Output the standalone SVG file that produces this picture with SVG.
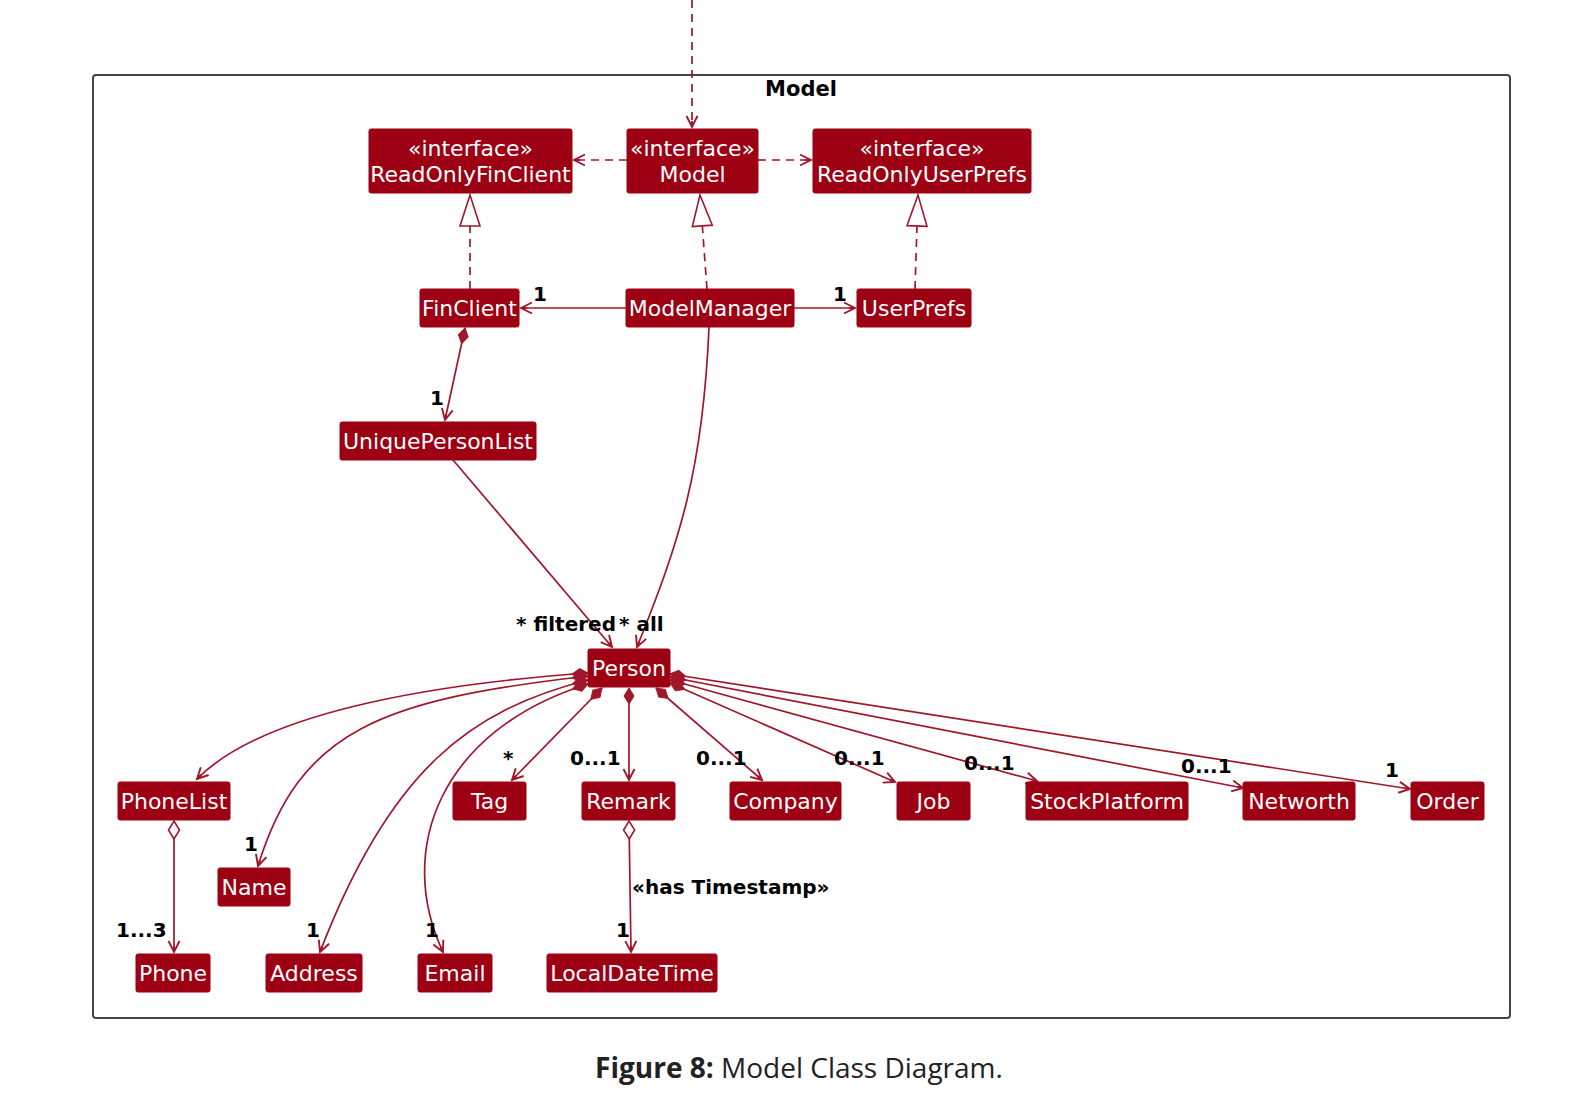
<svg xmlns="http://www.w3.org/2000/svg" width="1574" height="1105" viewBox="0 0 1574 1105">
<style>
.node rect{fill:#9C0012;stroke:#9C0012;stroke-width:1}
.node text{font-family:"DejaVu Sans",sans-serif;font-size:22px;fill:#ffffff;text-anchor:middle}
.lbl{font-family:"DejaVu Sans",sans-serif;font-size:20px;font-weight:bold;fill:#000000}
.ln{fill:none;stroke:#A0172B;stroke-width:1.7}
.dash{stroke-dasharray:8,6}
.frame{fill:none;stroke:#444444;stroke-width:2}
</style>
<defs>
<marker id="arr" markerUnits="userSpaceOnUse" markerWidth="20" markerHeight="20" orient="auto" overflow="visible" refX="0" refY="0">
<path d="M-11,-5.5 L0,0 L-11,5.5 M0,0 L-6,0" fill="none" stroke="#A0172B" stroke-width="1.9"/>
</marker>
<marker id="tri" markerUnits="userSpaceOnUse" markerWidth="40" markerHeight="40" orient="auto" overflow="visible" refX="0" refY="0">
<path d="M0,0 L-31,-10 L-31,10 Z" fill="#ffffff" stroke="#A0172B" stroke-width="1.6"/>
</marker>
<marker id="dia" markerUnits="userSpaceOnUse" markerWidth="20" markerHeight="20" orient="auto" overflow="visible" refX="0" refY="0">
<path d="M0,0 L8,-5 L16,0 L8,5 Z" fill="#A0172B" stroke="#A0172B" stroke-width="1"/>
</marker>
<marker id="odia" markerUnits="userSpaceOnUse" markerWidth="20" markerHeight="20" orient="auto" overflow="visible" refX="0" refY="0">
<path d="M0,0 L9,-5.5 L18,0 L9,5.5 Z" fill="#ffffff" stroke="#A0172B" stroke-width="1.6"/>
</marker>
</defs>
<rect width="1574" height="1105" fill="#ffffff"/>
<g id="package-model">
<rect class="frame" x="93" y="75" width="1417" height="943" rx="3"/>
<text x="801" y="96" font-family="DejaVu Sans, sans-serif" font-size="21" font-weight="bold" text-anchor="middle" fill="#000000">Model</text>
</g>
<g id="connectors">
<path class="ln dash" d="M692,0 L692,127" marker-end="url(#arr)"/>
<path class="ln dash" d="M627,160 L574,160" marker-end="url(#arr)"/>
<path class="ln dash" d="M758,160 L811,160" marker-end="url(#arr)"/>
<path class="ln dash" d="M470,289 L470,195" marker-end="url(#tri)"/>
<path class="ln dash" d="M707,289 L700,195" marker-end="url(#tri)"/>
<path class="ln dash" d="M915,289 L918,195" marker-end="url(#tri)"/>
<path class="ln" d="M626,308 L521,308" marker-end="url(#arr)"/>
<path class="ln" d="M794,308 L855,308" marker-end="url(#arr)"/>
<path class="ln" d="M465,328 L445,420" marker-start="url(#dia)" marker-end="url(#arr)"/>
<path class="ln" d="M453,460 L612,647" marker-end="url(#arr)"/>
<path class="ln" d="M709,327 C703,470 680,540 637,647" marker-end="url(#arr)"/>
<path class="ln" d="M588,673 C420,685 260,715 197,779" marker-start="url(#dia)" marker-end="url(#arr)"/>
<path class="ln" d="M588,676 C380,700 300,730 258,866" marker-start="url(#dia)" marker-end="url(#arr)"/>
<path class="ln" d="M588,680 C470,710 390,770 320,952" marker-start="url(#dia)" marker-end="url(#arr)"/>
<path class="ln" d="M588,684 C440,730 395,850 443,952" marker-start="url(#dia)" marker-end="url(#arr)"/>
<path class="ln" d="M602,688 L512,780" marker-start="url(#dia)" marker-end="url(#arr)"/>
<path class="ln" d="M629,688 L629,780" marker-start="url(#dia)" marker-end="url(#arr)"/>
<path class="ln" d="M656,688 L762,780" marker-start="url(#dia)" marker-end="url(#arr)"/>
<path class="ln" d="M670,683 L895,782" marker-start="url(#dia)" marker-end="url(#arr)"/>
<path class="ln" d="M670,680 L1037,781" marker-start="url(#dia)" marker-end="url(#arr)"/>
<path class="ln" d="M670,677 L1243,788" marker-start="url(#dia)" marker-end="url(#arr)"/>
<path class="ln" d="M670,674 L1410,789" marker-start="url(#dia)" marker-end="url(#arr)"/>
<path class="ln" d="M174,821 L174,952" marker-start="url(#odia)" marker-end="url(#arr)"/>
<path class="ln" d="M629,821 L631,952" marker-start="url(#odia)" marker-end="url(#arr)"/>
<text class="lbl" x="533" y="301">1</text>
<text class="lbl" x="833" y="301">1</text>
<text class="lbl" x="430" y="405">1</text>
<text class="lbl" x="516" y="631">* filtered</text>
<text class="lbl" x="619" y="631">* all</text>
<text class="lbl" x="503" y="765">*</text>
<text class="lbl" x="570" y="765">0...1</text>
<text class="lbl" x="696" y="765">0...1</text>
<text class="lbl" x="834" y="765">0...1</text>
<text class="lbl" x="964" y="770">0...1</text>
<text class="lbl" x="1181" y="773">0...1</text>
<text class="lbl" x="1385" y="777">1</text>
<text class="lbl" x="244" y="851">1</text>
<text class="lbl" x="116" y="937">1...3</text>
<text class="lbl" x="306" y="937">1</text>
<text class="lbl" x="425" y="937">1</text>
<text class="lbl" x="616" y="937">1</text>
<text class="lbl" x="632" y="894">«has Timestamp»</text>
</g>
<g id="ReadOnlyFinClient" class="node"><rect x="369" y="129" width="203" height="64" rx="2"/><text x="470.5" y="156">«interface»</text><text x="470.5" y="182">ReadOnlyFinClient</text></g>
<g id="Model" class="node"><rect x="627" y="129" width="131" height="64" rx="2"/><text x="692.5" y="156">«interface»</text><text x="692.5" y="182">Model</text></g>
<g id="ReadOnlyUserPrefs" class="node"><rect x="813" y="129" width="218" height="64" rx="2"/><text x="922" y="156">«interface»</text><text x="922" y="182">ReadOnlyUserPrefs</text></g>
<g id="FinClient" class="node"><rect x="420" y="289" width="99" height="38" rx="2"/><text x="469.5" y="316">FinClient</text></g>
<g id="ModelManager" class="node"><rect x="626" y="289" width="168" height="38" rx="2"/><text x="710" y="316">ModelManager</text></g>
<g id="UserPrefs" class="node"><rect x="857" y="289" width="114" height="38" rx="2"/><text x="914" y="316">UserPrefs</text></g>
<g id="UniquePersonList" class="node"><rect x="340" y="422" width="196" height="38" rx="2"/><text x="438" y="449">UniquePersonList</text></g>
<g id="Person" class="node"><rect x="588" y="649" width="82" height="38" rx="2"/><text x="629" y="676">Person</text></g>
<g id="PhoneList" class="node"><rect x="118" y="782" width="112" height="38" rx="2"/><text x="174" y="809">PhoneList</text></g>
<g id="Tag" class="node"><rect x="453" y="782" width="73" height="38" rx="2"/><text x="489.5" y="809">Tag</text></g>
<g id="Remark" class="node"><rect x="582" y="782" width="93" height="38" rx="2"/><text x="628.5" y="809">Remark</text></g>
<g id="Company" class="node"><rect x="730" y="782" width="111" height="38" rx="2"/><text x="785.5" y="809">Company</text></g>
<g id="Job" class="node"><rect x="897" y="782" width="73" height="38" rx="2"/><text x="933.5" y="809">Job</text></g>
<g id="StockPlatform" class="node"><rect x="1026" y="782" width="162" height="38" rx="2"/><text x="1107" y="809">StockPlatform</text></g>
<g id="Networth" class="node"><rect x="1243" y="782" width="112" height="38" rx="2"/><text x="1299" y="809">Networth</text></g>
<g id="Order" class="node"><rect x="1411" y="782" width="73" height="38" rx="2"/><text x="1447.5" y="809">Order</text></g>
<g id="Name" class="node"><rect x="218" y="868" width="72" height="38" rx="2"/><text x="254" y="895">Name</text></g>
<g id="Phone" class="node"><rect x="136" y="954" width="74" height="38" rx="2"/><text x="173" y="981">Phone</text></g>
<g id="Address" class="node"><rect x="266" y="954" width="96" height="38" rx="2"/><text x="314" y="981">Address</text></g>
<g id="Email" class="node"><rect x="418" y="954" width="74" height="38" rx="2"/><text x="455" y="981">Email</text></g>
<g id="LocalDateTime" class="node"><rect x="547" y="954" width="170" height="38" rx="2"/><text x="632" y="981">LocalDateTime</text></g>
<g id="caption">
<text x="799" y="1078" font-family="Open Sans, Noto Sans, sans-serif" font-size="28" fill="#222222" text-anchor="middle"><tspan font-weight="bold">Figure 8:</tspan> Model Class Diagram.</text>
</g>
</svg>
